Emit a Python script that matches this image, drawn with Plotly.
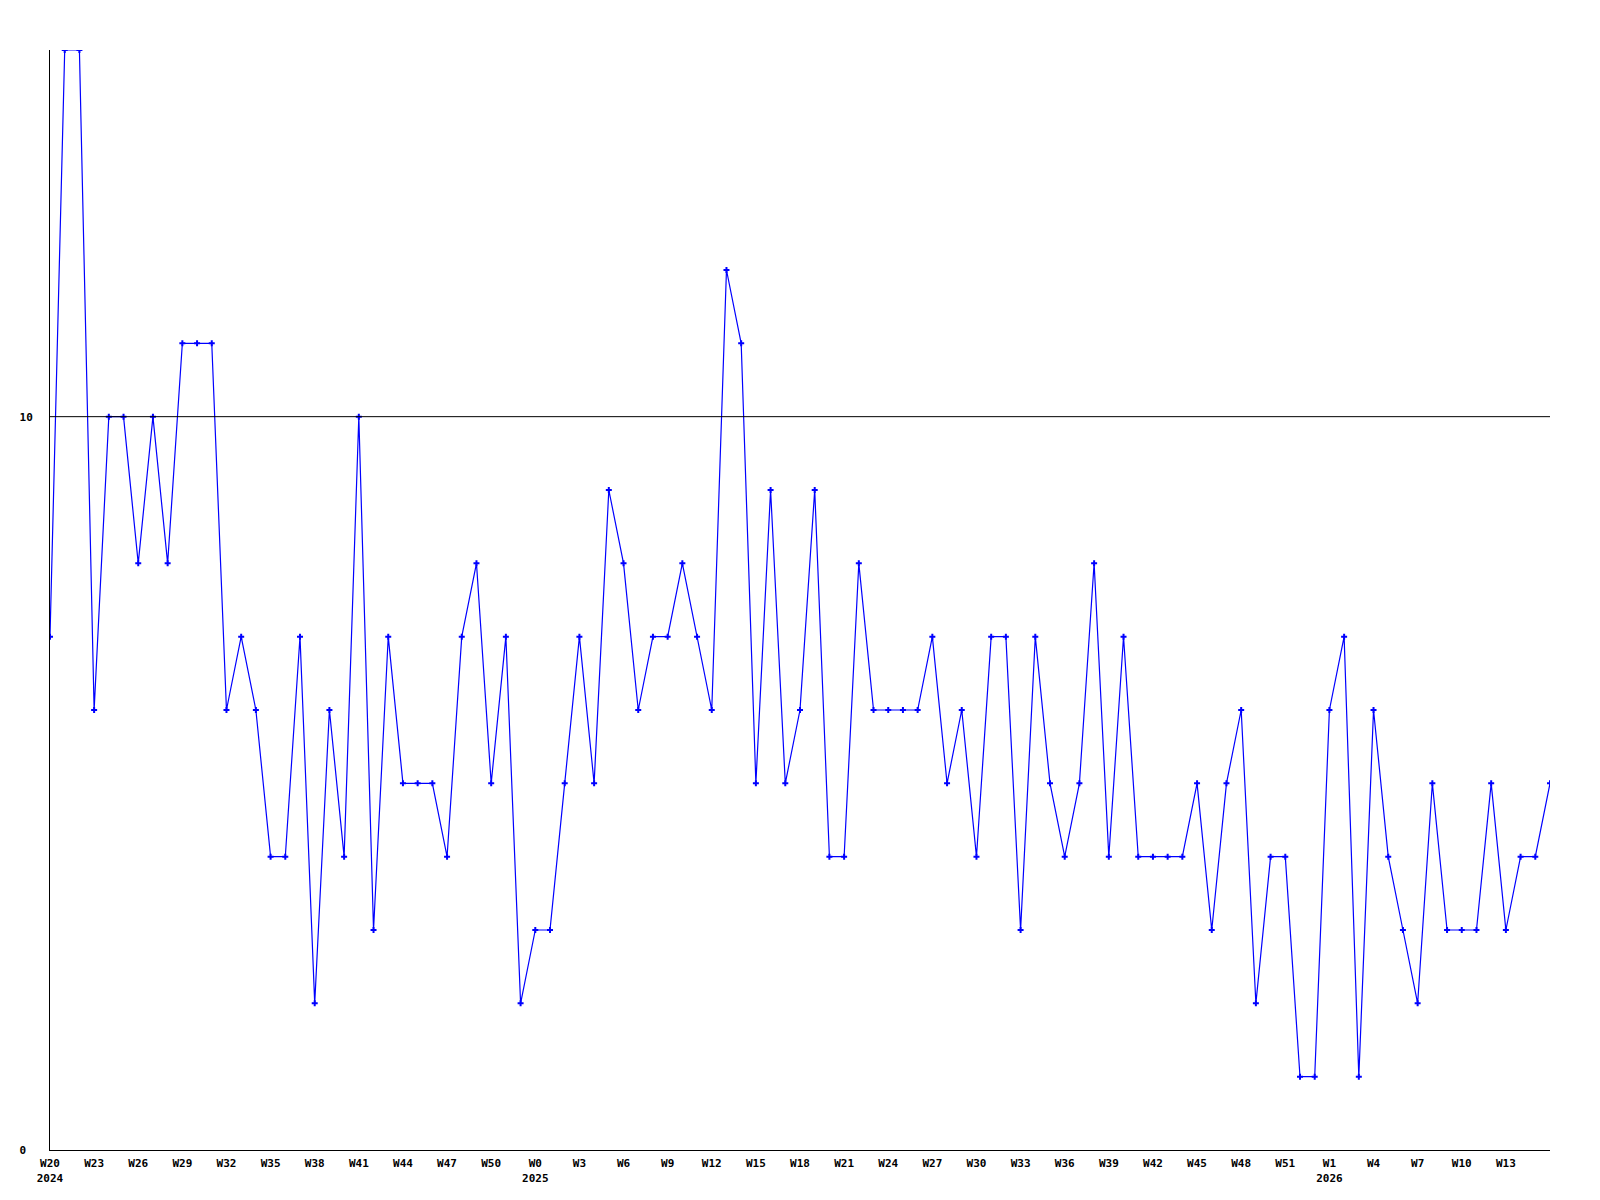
import plotly.graph_objects as go

values = [7, 15, 15, 6, 10, 10, 8, 10, 8, 11, 11, 11, 6, 7, 6, 4, 4, 7, 2, 6,
          4, 10, 3, 7, 5, 5, 5, 4, 7, 8, 5, 7, 2, 3, 3, 5, 7, 5, 9, 8,
          6, 7, 7, 8, 7, 6, 12, 11, 5, 9, 5, 6, 9, 4, 4, 8, 6, 6, 6, 6,
          7, 5, 6, 4, 7, 7, 3, 7, 5, 4, 5, 8, 4, 7, 4, 4, 4, 4, 5, 3,
          5, 6, 2, 4, 4, 1, 1, 6, 7, 1, 6, 4, 3, 2, 5, 3, 3, 3, 5, 3,
          4, 4, 5]

tick_positions = [0, 3, 6, 9, 12, 15, 18, 21, 24, 27, 30, 33, 36, 39, 42, 45, 48,
                  51, 54, 57, 60, 63, 66, 69, 72, 75, 78, 81, 84, 87, 90, 93, 96, 99]
tick_labels = ["W20<br>2024", "W23", "W26", "W29", "W32", "W35", "W38", "W41", "W44",
               "W47", "W50", "W0<br>2025", "W3", "W6", "W9", "W12", "W15", "W18",
               "W21", "W24", "W27", "W30", "W33", "W36", "W39", "W42", "W45", "W48",
               "W51", "W1<br>2026", "W4", "W7", "W10", "W13"]

y_ticks = [0, 10]
y_tick_labels = ["0 ", "10"]

x = list(range(len(values)))

font = dict(family="DejaVu Sans Mono", size=11, color="black", weight="bold")

fig = go.Figure()
fig.add_trace(go.Scatter(
    x=x, y=values, mode="lines+markers",
    line=dict(color="#0000ff", width=1.2),
    marker=dict(symbol="cross", size=5, color="#0000ff", line=dict(width=0)),
    showlegend=False,
))
fig.add_hline(y=10, line=dict(color="black", width=1))

fig.update_layout(
    width=1600, height=1200,
    margin=dict(l=42, r=58, t=42, b=58, autoexpand=False),
    paper_bgcolor="white", plot_bgcolor="white",
    font=font,
    xaxis=dict(range=[0, len(values) - 1], tickvals=tick_positions, ticktext=tick_labels,
               showgrid=False, zeroline=False, showline=True, linecolor="black", linewidth=1,
               ticks="", tickfont=font, ticklabelstandoff=3, automargin=False),
    yaxis=dict(range=[0, 15], tickvals=y_ticks, ticktext=y_tick_labels,
               showgrid=False, zeroline=False, showline=True, linecolor="black", linewidth=1,
               ticks="", tickfont=font, ticklabelstandoff=14, automargin=False),
)

fig.write_html("out.html")
